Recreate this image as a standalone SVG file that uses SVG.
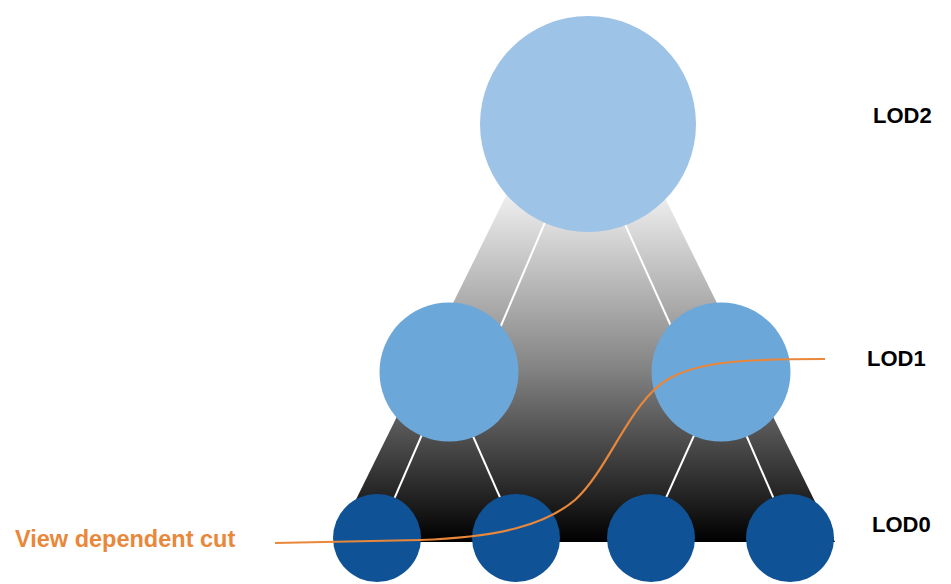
<svg xmlns="http://www.w3.org/2000/svg" width="951" height="584" viewBox="0 0 951 584">
  <defs>
    <linearGradient id="fade" gradientUnits="userSpaceOnUse" x1="0" y1="190" x2="0" y2="542">
      <stop offset="0" stop-color="#f2f2f2"/>
      <stop offset="0.5" stop-color="#858585"/>
      <stop offset="1" stop-color="#000000"/>
    </linearGradient>
    <style>
      .edge { stroke: #ffffff; stroke-width: 2; fill: none; }
      .l2 { fill: #9dc3e6; }
      .l1 { fill: #6ca7da; }
      .l0 { fill: #0f5296; }
      .lod { font-family: "Liberation Sans", Arial, sans-serif; font-weight: bold; font-size: 22px; fill: #000000; }
      .cut { fill: none; stroke: #e9873a; stroke-width: 2.2; }
      .cutlabel { font-family: "Liberation Sans", Arial, sans-serif; font-weight: bold; font-size: 23.5px; fill: #e9873a; }
    </style>
  </defs>
  <rect width="951" height="584" fill="#ffffff"/>
  <polygon id="pyramid" points="585,36 835,542 335,542" fill="url(#fade)"/>
  <g id="connectors">
    <line class="edge" x1="563" y1="180" x2="497" y2="335"/>
    <line class="edge" x1="605" y1="180" x2="675" y2="335"/>
    <line class="edge" x1="437" y1="400" x2="385" y2="520"/>
    <line class="edge" x1="457" y1="400" x2="510" y2="520"/>
    <line class="edge" x1="710" y1="400" x2="656" y2="520"/>
    <line class="edge" x1="731" y1="400" x2="783" y2="520"/>
  </g>
  <g id="node-lod2"><circle class="l2" cx="588" cy="124" r="108"/></g>
  <g id="node-lod1-a"><circle class="l1" cx="449" cy="372" r="69.5"/></g>
  <g id="node-lod1-b"><circle class="l1" cx="721" cy="372" r="69.5"/></g>
  <g id="node-lod0-a"><circle class="l0" cx="377" cy="538" r="44"/></g>
  <g id="node-lod0-b"><circle class="l0" cx="516" cy="538" r="44"/></g>
  <g id="node-lod0-c"><circle class="l0" cx="651" cy="538" r="44"/></g>
  <g id="node-lod0-d"><circle class="l0" cx="790" cy="538" r="44"/></g>
  <g id="cut">
    <path class="cut" d="M275,543 L420,540 C500,537 545,525 575,500 C610,468 630,400 670,378 C700,362 740,359 825,359"/>
    <text class="cutlabel" x="15" y="547">View dependent cut</text>
  </g>
  <g id="labels">
    <text class="lod" x="873" y="123">LOD2</text>
    <text class="lod" x="867" y="366">LOD1</text>
    <text class="lod" x="872" y="532">LOD0</text>
  </g>
</svg>
